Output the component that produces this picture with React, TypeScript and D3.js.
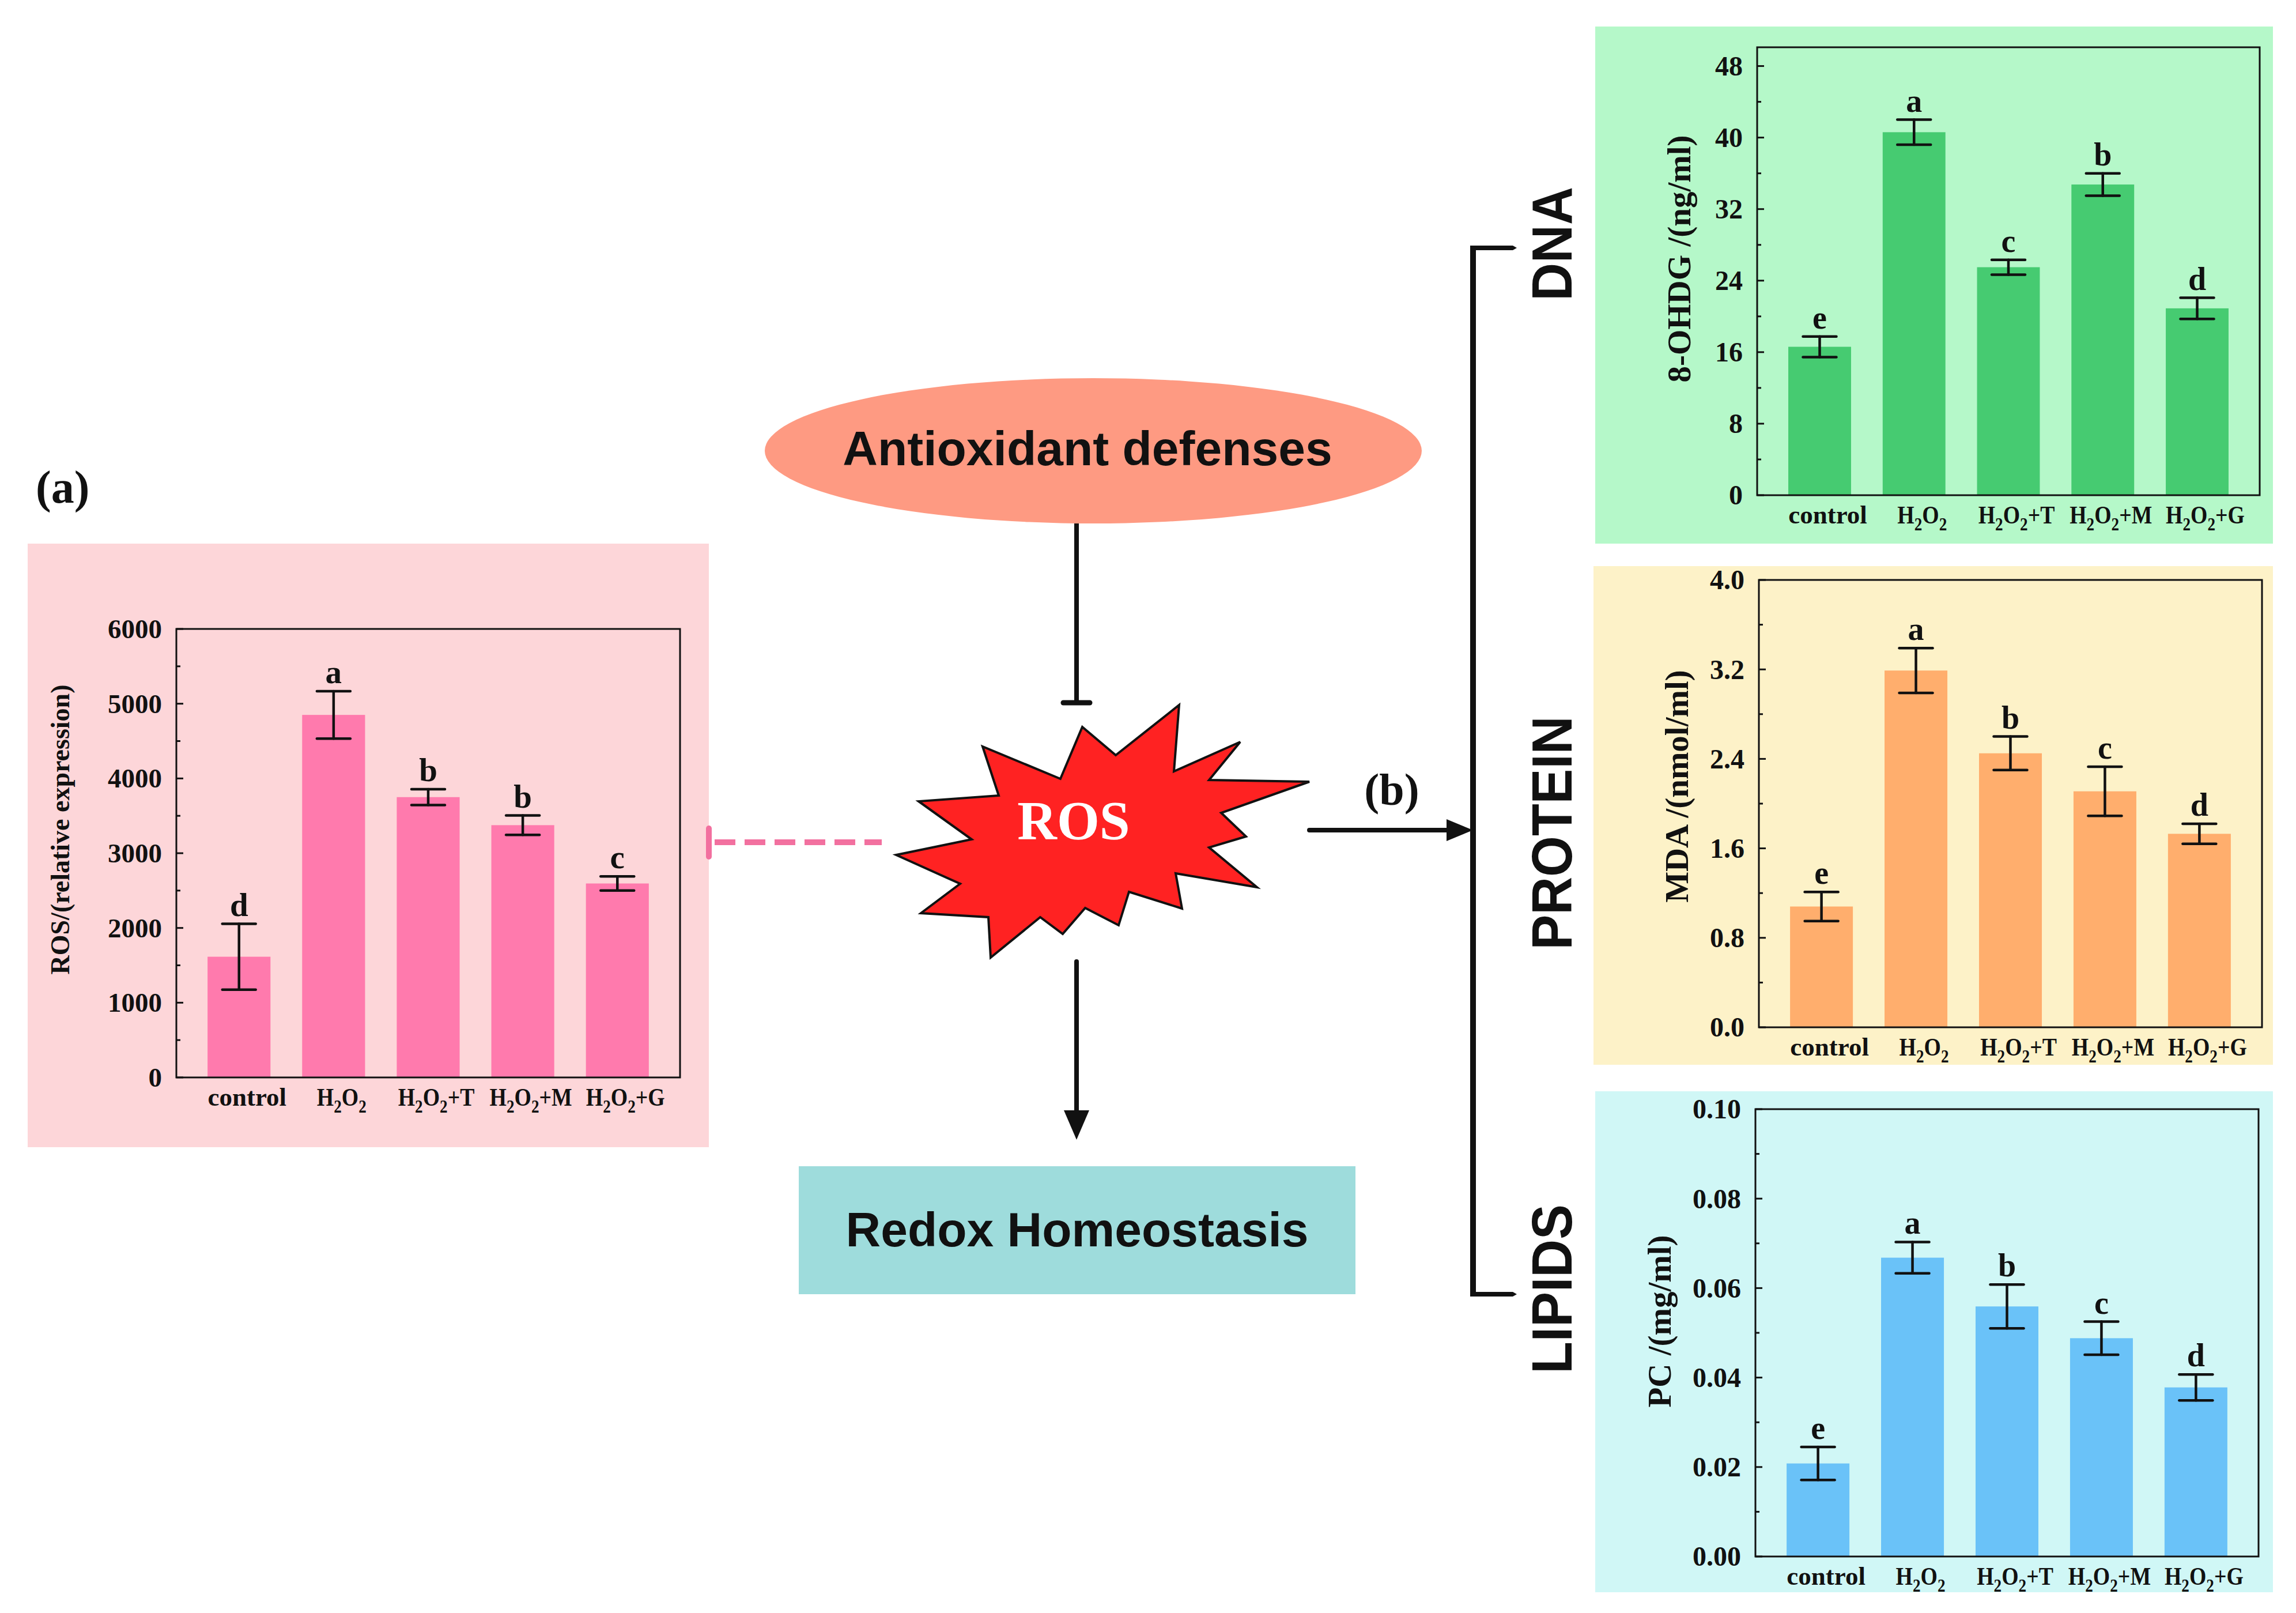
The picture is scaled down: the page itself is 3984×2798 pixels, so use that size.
import React from "react";
import * as d3 from "d3";

// ---------- data ----------
const categories = ["control", "H2O2", "H2O2+T", "H2O2+M", "H2O2+G"];

const rosValues = [1615, 4850, 3750, 3375, 2595];
const rosErrors = [440, 318, 106, 130, 94];
const rosLetters = ["d", "a", "b", "b", "c"];
const rosTicks = [0, 1000, 2000, 3000, 4000, 5000, 6000];

const ohdgValues = [16.6, 40.6, 25.5, 34.75, 20.9];
const ohdgErrors = [1.15, 1.4, 0.83, 1.25, 1.18];
const ohdgLetters = ["e", "a", "c", "b", "d"];
const ohdgTicks = [0, 8, 16, 24, 32, 40, 48];

const mdaValues = [1.08, 3.19, 2.45, 2.11, 1.73];
const mdaErrors = [0.13, 0.2, 0.15, 0.22, 0.09];
const mdaLetters = ["e", "a", "b", "c", "d"];
const mdaTicks = [0, 0.8, 1.6, 2.4, 3.2, 4.0];

const pcValues = [0.0208, 0.0668, 0.0559, 0.0488, 0.0378];
const pcErrors = [0.0037, 0.0035, 0.0049, 0.0037, 0.0029];
const pcLetters = ["e", "a", "b", "c", "d"];
const pcTicks = [0, 0.02, 0.04, 0.06, 0.08, 0.1];

const sideLabels = ["DNA", "PROTEIN", "LIPIDS"];

// decorative burst outline, relative to its centre
const burstShape: [number, number][] = [
  [10, -180], [68, -131], [178, -218], [169, -103], [284, -154], [230, -88],
  [404, -85], [251, -31], [294, 10], [230, 29], [313, 98], [172, 74],
  [183, 135], [91, 106], [73, 164], [15, 134], [-24, 179], [-63, 150],
  [-149, 220], [-153, 150], [-270, 143], [-202, 92], [-313, 42], [-182, 15],
  [-274, -51], [-135, -61], [-163, -146], [-28, -90],
];

const SERIF = "'Liberation Serif', 'Times New Roman', serif";
const SANS = "'Liberation Sans', Arial, sans-serif";

function CatLabel({ x, y, label, size }: { x: number; y: number; label: string; size: number }) {
  const parts = label.match(/[A-Za-z+]+|\d/g) || [label];
  const shift = size * 0.27;
  const hasSub = parts.length > 1;
  let sub = false;
  return (
    <text
      transform={`translate(${x},${y}) scale(${hasSub ? 0.84 : 1},1)`}
      textAnchor="middle"
      fontFamily={SERIF}
      fontWeight="bold"
      fontSize={size}
      fill="#111"
    >
      {parts.map((p, i) => {
        const isSub = /^\d$/.test(p);
        let dy = 0;
        if (isSub && !sub) dy = shift;
        if (!isSub && sub) dy = -shift;
        sub = isSub;
        return (
          <tspan key={i} dy={dy} fontSize={isSub ? size * 0.72 : size}>
            {p}
          </tspan>
        );
      })}
    </text>
  );
}

type PanelProps = {
  bg: [number, number, number, number];
  bgColor: string;
  barColor: string;
  left: number;
  right: number;
  top: number;
  bottom: number;
  domainMax: number;
  ticks: number[];
  fmt: (v: number) => string;
  values: number[];
  errors: number[];
  letters: string[];
  title: string;
  titleX: number;
  titleY: number;
  titleSize: number;
  tickSize: number;
  letterSize: number;
};

function BarPanel(p: PanelProps) {
  const x = d3
    .scaleBand<string>()
    .domain(categories)
    .range([p.left, p.right])
    .paddingInner(0.335)
    .paddingOuter(0.33);
  const y = d3.scaleLinear().domain([0, p.domainMax]).range([p.bottom, p.top]);
  const step = p.ticks[1] - p.ticks[0];
  const minor = p.ticks.slice(0, -1).map((t) => t + step / 2);
  const capHalf = 29;
  return (
    <g>
      <rect x={p.bg[0]} y={p.bg[1]} width={p.bg[2] - p.bg[0]} height={p.bg[3] - p.bg[1]} fill={p.bgColor} />
      {categories.map((c, i) => (
        <rect
          key={c}
          x={x(c)}
          y={y(p.values[i])}
          width={x.bandwidth()}
          height={y(0) - y(p.values[i])}
          fill={p.barColor}
        />
      ))}
      {categories.map((c, i) => {
        const cx = (x(c) as number) + x.bandwidth() / 2;
        const hi = y(p.values[i] + p.errors[i]);
        const lo = y(p.values[i] - p.errors[i]);
        return (
          <g key={c} stroke="#111" strokeWidth={4.5} strokeLinecap="round">
            <line x1={cx} x2={cx} y1={hi} y2={lo} />
            <line x1={cx - capHalf} x2={cx + capHalf} y1={hi} y2={hi} />
            <line x1={cx - capHalf} x2={cx + capHalf} y1={lo} y2={lo} />
            <text
              x={cx}
              y={hi - 14}
              stroke="none"
              fill="#111"
              textAnchor="middle"
              fontFamily={SERIF}
              fontWeight="bold"
              fontSize={p.letterSize}
            >
              {p.letters[i]}
            </text>
          </g>
        );
      })}
      <rect x={p.left} y={p.top} width={p.right - p.left} height={p.bottom - p.top} fill="none" stroke="#111" strokeWidth={3} />
      {p.ticks.map((t) => (
        <g key={t}>
          <line x1={p.left} x2={p.left + 12} y1={y(t)} y2={y(t)} stroke="#111" strokeWidth={3} />
          <text
            x={p.left - 25}
            y={y(t)}
            dy="0.34em"
            textAnchor="end"
            fontFamily={SERIF}
            fontWeight="bold"
            fontSize={p.tickSize}
            fill="#111"
          >
            {p.fmt(t)}
          </text>
        </g>
      ))}
      {minor.map((t) => (
        <line key={t} x1={p.left} x2={p.left + 7} y1={y(t)} y2={y(t)} stroke="#111" strokeWidth={3} />
      ))}
      {categories.map((c) => (
        <CatLabel key={c} x={(x(c) as number) + x.bandwidth() / 2 + 14} y={p.bottom + 49} label={c} size={45} />
      ))}
      <text
        transform={`translate(${p.titleX},${p.titleY}) rotate(-90)`}
        dy="0.35em"
        textAnchor="middle"
        fontFamily={SERIF}
        fontWeight="bold"
        fontSize={p.titleSize}
        fill="#111"
      >
        {p.title}
      </text>
    </g>
  );
}

export default function App() {
  const burstCx = 1868;
  const burstCy = 1441;
  const burstPath = d3.line()(burstShape.map(([dx, dy]) => [burstCx + dx, burstCy + dy] as [number, number])) + "Z";
  const sideY = [423, 1445, 2236];
  return (
    <svg
      width={3984}
      height={2798}
      viewBox="0 0 3984 2798"
      style={{ position: "absolute", left: 0, top: 0, background: "#fff" }}
    >
      <rect x={0} y={0} width={3984} height={2798} fill="#fff" />

      {/* (a) */}
      <text x={62} y={872} fontFamily={SERIF} fontWeight="bold" fontSize={80} fill="#111">
        (a)
      </text>
      <BarPanel
        bg={[48, 943, 1230, 1990]}
        bgColor="#fdd6d9"
        barColor="#ff7aad"
        left={306}
        right={1180}
        top={1091}
        bottom={1869}
        domainMax={6000}
        ticks={rosTicks}
        fmt={(v) => String(v)}
        values={rosValues}
        errors={rosErrors}
        letters={rosLetters}
        title="ROS/(relative expression)"
        titleX={104}
        titleY={1439}
        titleSize={46}
        tickSize={47}
        letterSize={57}
      />

      <BarPanel
        bg={[2768, 46, 3944, 943]}
        bgColor="#b5f8c9"
        barColor="#46cb71"
        left={3049}
        right={3921}
        top={82}
        bottom={859}
        domainMax={50.1}
        ticks={ohdgTicks}
        fmt={(v) => String(v)}
        values={ohdgValues}
        errors={ohdgErrors}
        letters={ohdgLetters}
        title="8-OHDG /(ng/ml)"
        titleX={2913}
        titleY={449}
        titleSize={57}
        tickSize={48}
        letterSize={56}
      />

      <BarPanel
        bg={[2765, 982, 3944, 1847]}
        bgColor="#fdf2c8"
        barColor="#ffae6d"
        left={3052}
        right={3925}
        top={1006}
        bottom={1782}
        domainMax={4}
        ticks={mdaTicks}
        fmt={(v) => v.toFixed(1)}
        values={mdaValues}
        errors={mdaErrors}
        letters={mdaLetters}
        title="MDA /(nmol/ml)"
        titleX={2909}
        titleY={1364}
        titleSize={57}
        tickSize={48}
        letterSize={56}
      />

      <BarPanel
        bg={[2768, 1893, 3944, 2762]}
        bgColor="#d0f7f6"
        barColor="#6ac2f8"
        left={3046}
        right={3919}
        top={1924}
        bottom={2700}
        domainMax={0.1}
        ticks={pcTicks}
        fmt={(v) => v.toFixed(2)}
        values={pcValues}
        errors={pcErrors}
        letters={pcLetters}
        title="PC /(mg/ml)"
        titleX={2879}
        titleY={2292}
        titleSize={57}
        tickSize={48}
        letterSize={56}
      />

      {/* Antioxidant defenses */}
      <ellipse cx={1897} cy={782} rx={570} ry={126} fill="#fe9a82" />
      <text x={1887} y={807} textAnchor="middle" fontFamily={SANS} fontWeight="bold" fontSize={84} fill="#111">
        Antioxidant defenses
      </text>
      <line x1={1868} x2={1868} y1={908} y2={1219} stroke="#111" strokeWidth={8} />
      <line x1={1845} x2={1891} y1={1219} y2={1219} stroke="#111" strokeWidth={9} strokeLinecap="round" />

      {/* ROS burst */}
      <path d={burstPath} fill="#ff2222" stroke="#111" strokeWidth={4} strokeLinejoin="miter" />
      <text x={1863} y={1456} textAnchor="middle" fontFamily={SERIF} fontWeight="bold" fontSize={95} fill="#fff">
        ROS
      </text>

      {/* down arrow to Redox */}
      <line x1={1868} x2={1868} y1={1668} y2={1935} stroke="#111" strokeWidth={8} strokeLinecap="round" />
      <polygon points="1846,1926 1890,1926 1868,1977" fill="#111" />
      <rect x={1386} y={2023} width={966} height={222} fill="#9edcdc" />
      <text x={1869} y={2162} textAnchor="middle" fontFamily={SANS} fontWeight="bold" fontSize={84} fill="#111">
        Redox Homeostasis
      </text>

      {/* pink dashed inhibition line */}
      <line x1={1240} x2={1530} y1={1461} y2={1461} stroke="#f2709f" strokeWidth={10} strokeDasharray="36 16" />
      <line x1={1230} x2={1230} y1={1437} y2={1486} stroke="#f2709f" strokeWidth={10} strokeLinecap="round" />

      {/* right arrow with (b) */}
      <line x1={2272} x2={2515} y1={1440} y2={1440} stroke="#111" strokeWidth={8} strokeLinecap="round" />
      <polygon points="2510,1421 2510,1459 2556,1440" fill="#111" />
      <text x={2415} y={1396} textAnchor="middle" fontFamily={SERIF} fontWeight="bold" fontSize={78} fill="#111">
        (b)
      </text>

      {/* bracket */}
      <line x1={2556} x2={2556} y1={430} y2={2245} stroke="#111" strokeWidth={10} />
      <polygon points="2551,426 2625,426 2632,430 2625,434 2551,434" fill="#111" />
      <polygon points="2551,2241 2625,2241 2632,2245 2625,2249 2551,2249" fill="#111" />

      {sideLabels.map((s, i) => (
        <text
          key={s}
          transform={`translate(2692,${sideY[i]}) rotate(-90) scale(0.93,1)`}
          dy="0.36em"
          textAnchor="middle"
          fontFamily={SANS}
          fontWeight="bold"
          fontSize={98}
          fill="#111"
        >
          {s}
        </text>
      ))}
    </svg>
  );
}
